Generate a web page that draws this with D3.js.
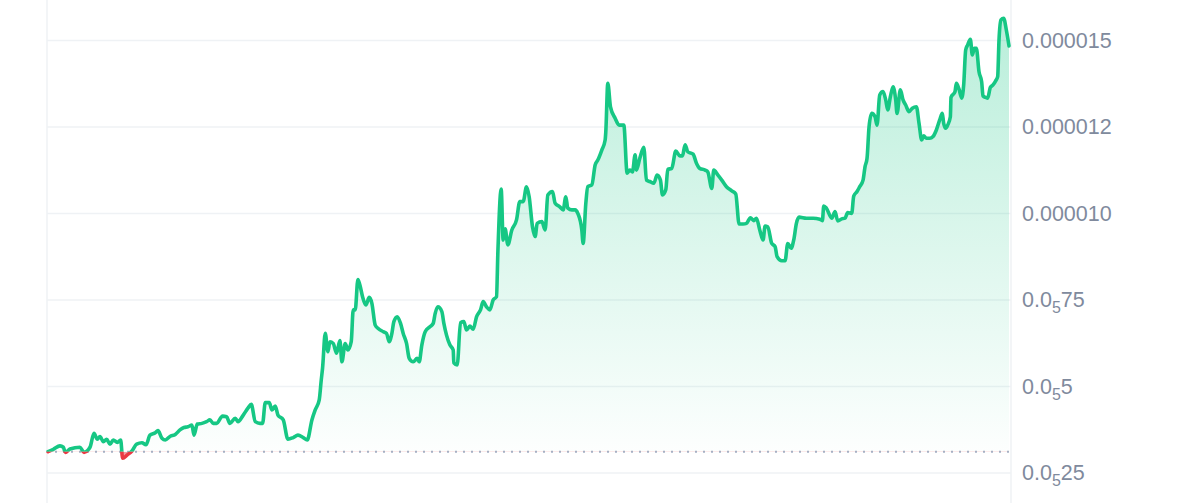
<!DOCTYPE html>
<html><head><meta charset="utf-8">
<script src="https://cdn.jsdelivr.net/npm/d3@7/dist/d3.min.js"></script>
<style>html,body{margin:0;padding:0;background:#fff;overflow:hidden}</style>
</head><body>
<svg id="chart" width="1200" height="503"></svg>
<script>
// time in minutes since start of the 24h window
const times = [
0,8,18,23,26,33,48,54,63,69,74,78,83,88,93,98,104,109,112,119,
126,133,141,147,153,161,165,171,176,183,191,198,204,210,216,219,224,231,238,243,
248,253,262,268,273,281,285,293,300,305,311,318,322,326,332,336,341,345,353,360,
368,375,383,389,396,401,407,410,412,
416,420,423,428,433,438,441,446,450,455,458,461,465,468,472,477,482,486,491,495,
503,508,512,516,519,524,529,533,538,542,548,554,557,561,566,573,578,581,585,591,
594,598,603,608,609,614,619,624,628,633,638,643,649,653,658,663,668,673,675,680,
683,686,690,696,703,708,713,718,722,727,731,734,741,746,750,757,761,768,773,777,
780,786,791,795,801,803,807,810,816,821,825,831,836,837,840,844,851,857,864,869,
873,877,881,883,888,894,898,903,909,914,919,922,927,930,936,942,948,952,956,960,
968,973,978,986,990,996,999,1005,1011,1018,1026,1032,1037,1043,1048,1054,1059,1063,1068,1073,
1076,1080,1086,1091,1094,1101,1106,1110,1115,1119,1123,1127,1138,1148,1158,1162,1164,1168,1176,1181,
1185,1191,1196,1200,1206,1209,1214,1218,1223,1226,1229,1232,1236,1241,1244,1248,1253,1257,1260,1264,
1268,1272,1274,1279,1283,1287,1292,1297,1303,1307,1311,1314,1318,1323,1328,1333,1338,1342,1344,1347,
1350,1354,1355,1361,1363,1367,1371,1374,1377,1380,1384,1387,1390,1393,1397,1401,1403,1407,1410,1414,
1418,1422,1425,1427,1430,1434,1438,1442
];
// price in units of 1e-6
const prices = [
3.10,3.17,3.27,3.23,3.08,3.18,3.23,3.08,3.23,3.63,3.46,3.54,3.39,3.46,3.32,3.44,3.37,3.44,2.91,3.01,
3.12,3.32,3.36,3.30,3.58,3.65,3.71,3.49,3.44,3.54,3.60,3.73,3.80,3.82,3.87,3.58,3.90,3.92,3.97,4.02,
3.92,3.92,4.13,4.11,3.92,4.07,3.97,4.16,4.36,4.47,3.97,3.92,3.92,4.52,4.52,4.31,4.42,4.16,4.02,3.46,
3.51,3.58,3.51,3.44,4.02,4.31,4.60,5.17,5.52,
6.52,5.99,6.28,6.23,5.95,6.31,5.70,6.23,6.04,6.28,7.20,7.20,8.08,7.92,7.58,7.34,7.56,7.39,6.76,6.67,
6.57,6.52,6.28,6.52,6.86,7.00,6.81,6.52,6.23,5.80,5.70,5.80,5.70,6.19,6.57,6.71,6.81,7.10,7.29,7.15,
6.81,6.47,6.19,6.04,5.67,5.61,6.83,6.86,6.62,6.73,6.64,7.00,7.20,7.44,7.29,7.20,7.49,7.58,8.84,10.69,
9.22,9.54,9.08,9.51,9.80,10.33,10.33,10.76,10.47,9.60,9.32,9.70,9.75,9.51,10.52,10.62,10.28,10.18,10.09,10.47,
10.14,10.09,10.09,9.99,9.51,9.12,10.28,10.76,10.81,11.39,11.53,11.82,12.11,12.35,13.75,13.07,12.74,12.54,12.54,11.15,
11.24,11.19,11.68,11.24,11.58,11.90,10.95,10.91,10.86,11.10,10.95,10.52,10.67,11.26,11.29,11.79,11.65,11.65,11.97,11.77,
11.70,11.44,11.29,11.24,11.19,10.71,11.24,11.10,10.95,10.76,10.64,10.55,9.68,9.68,9.70,9.86,9.78,9.85,9.51,9.22,
9.62,9.60,9.12,9.03,8.74,8.62,8.62,9.12,8.98,9.22,9.70,9.88,9.85,9.85,9.82,9.78,10.20,10.14,9.85,10.04,
9.77,9.83,9.85,10.01,9.99,10.49,10.62,10.76,10.95,11.34,11.58,12.49,12.88,12.78,12.54,13.41,13.51,13.27,12.98,13.36,
13.65,13.27,12.88,13.56,13.27,13.12,12.93,13.03,13.07,12.59,12.11,12.23,12.16,12.16,12.21,12.40,12.69,12.88,12.59,12.45,
12.54,12.78,13.34,13.51,13.75,13.58,13.32,13.70,14.71,14.86,15.02,14.57,14.76,14.76,14.08,13.79,13.38,13.34,13.32,13.63,
13.70,13.82,13.94,15.00,15.58,15.63,15.29,14.83
];
const baselinePrice = 3.10;               // opening price (dotted reference line)
const tickValues = [2.5, 5, 7.5, 10, 12.5, 15];
const tickLabels = ["0.0₅25", "0.0₅5", "0.0₅75", "0.000010", "0.000012", "0.000015"];

const W = 1200, H = 503;
const plotLeft = 47, plotRight = 1011;
const GREEN = "#16c784", RED = "#ea3943";

const data = d3.zip(times, prices).map(([t, p]) => ({t, p}));

const x = d3.scaleLinear().domain(d3.extent(times)).range([48, 1009]);
const y = d3.scaleLinear().domain([2.5, 15]).range([472.5, 40]);

const svg = d3.select("#chart");
const defs = svg.append("defs");

const baseY = y(baselinePrice);
defs.append("clipPath").attr("id", "clipAbove")
  .append("rect").attr("x", 0).attr("y", 0).attr("width", W).attr("height", baseY);
defs.append("clipPath").attr("id", "clipBelow")
  .append("rect").attr("x", 0).attr("y", baseY).attr("width", W).attr("height", H - baseY);

const gGrad = defs.append("linearGradient").attr("id", "gFill")
  .attr("gradientUnits", "userSpaceOnUse")
  .attr("x1", 0).attr("x2", 0).attr("y1", y(d3.max(prices))).attr("y2", baseY);
gGrad.append("stop").attr("offset", 0).attr("stop-color", GREEN).attr("stop-opacity", 0.30);
gGrad.append("stop").attr("offset", 1).attr("stop-color", GREEN).attr("stop-opacity", 0.01);

// horizontal grid
const yAxis = d3.axisRight(y).tickValues(tickValues).tickSize(plotRight - plotLeft).tickFormat("");
const gridG = svg.append("g").attr("transform", `translate(${plotLeft},0)`).call(yAxis);
gridG.select(".domain").remove();
gridG.selectAll(".tick line").attr("stroke", "#eff2f5").attr("stroke-width", 1.5);

// vertical borders
svg.append("g").selectAll("line").data([plotLeft, plotRight]).join("line")
  .attr("x1", d => d).attr("x2", d => d).attr("y1", 0).attr("y2", H)
  .attr("stroke", "#eff2f5").attr("stroke-width", 1.5);

// areas
const area = d3.area().x(d => x(d.t)).y0(baseY).y1(d => y(d.p)).curve(d3.curveMonotoneX);
svg.append("path").datum(data).attr("d", area).attr("fill", "url(#gFill)").attr("clip-path", "url(#clipAbove)");
svg.append("path").datum(data).attr("d", area).attr("fill", RED).attr("fill-opacity", 0.5).attr("clip-path", "url(#clipBelow)");

// dotted baseline
svg.append("line").attr("x1", plotLeft).attr("x2", plotRight).attr("y1", baseY).attr("y2", baseY)
  .attr("stroke", "#a6b0c3").attr("stroke-width", 2).attr("stroke-dasharray", "2 6");

// lines
const line = d3.line().x(d => x(d.t)).y(d => y(d.p)).curve(d3.curveMonotoneX);
svg.append("path").datum(data).attr("d", line).attr("fill", "none").attr("stroke", GREEN)
  .attr("stroke-width", 3.6).attr("stroke-linejoin", "round").attr("stroke-linecap", "round")
  .attr("clip-path", "url(#clipAbove)");
svg.append("path").datum(data).attr("d", line).attr("fill", "none").attr("stroke", RED)
  .attr("stroke-width", 3.6).attr("stroke-linejoin", "round").attr("stroke-linecap", "round")
  .attr("clip-path", "url(#clipBelow)");

// tick labels (with subscript zero-count notation)
const subMap = {"₀":"0","₁":"1","₂":"2","₃":"3","₄":"4","₅":"5","₆":"6","₇":"7","₈":"8","₉":"9"};
const labelG = svg.append("g");
tickValues.forEach((v, i) => {
  const txt = labelG.append("text")
    .attr("x", 1022).attr("y", y(v)).attr("dy", "0.36em")
    .attr("fill", "#808a9d")
    .style("font-family", "'Liberation Sans', Arial, Helvetica, sans-serif")
    .style("font-size", "21.5px");
  const parts = tickLabels[i].split(/([₀-₉])/).filter(s => s.length);
  let shifted = false;
  parts.forEach(s => {
    if (subMap[s]) {
      txt.append("tspan").attr("dy", "0.38em").style("font-size", "16px").text(subMap[s]);
      shifted = true;
    } else {
      const ts = txt.append("tspan").text(s);
      if (shifted) { ts.attr("dy", "-0.28em"); shifted = false; }
    }
  });
});
</script>
</body></html>
